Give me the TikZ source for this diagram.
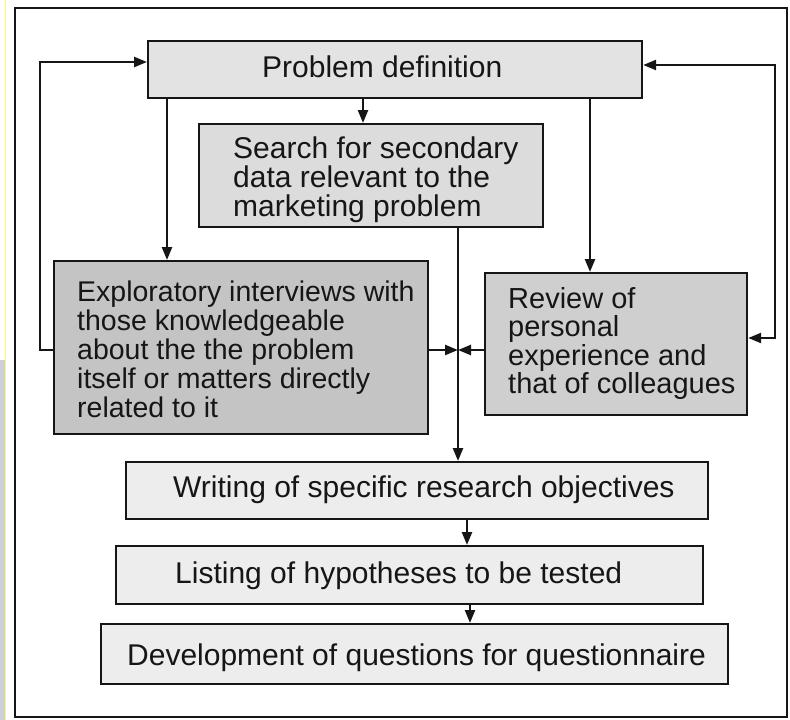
\documentclass[tikz,border=0pt]{standalone}
\usepackage{fontspec}
\setmainfont{Liberation Sans}
\usetikzlibrary{arrows.meta}
\newcommand{\fsz}[2]{\fontsize{#1}{#2}\selectfont}
\definecolor{inkc}{HTML}{161616}
\definecolor{lightbox}{HTML}{EDEDED}
\definecolor{topbox}{HTML}{E3E3E3}
\definecolor{midbox}{HTML}{DCDCDC}
\definecolor{darkbox}{HTML}{C4C4C4}
\definecolor{revbox}{HTML}{CFCFCF}
\definecolor{edgestrip}{HTML}{CCCFD8}
\begin{document}
\begin{tikzpicture}[x=1pt,y=-1pt,
  box/.style={draw=inkc, line width=2.2pt, inner sep=0pt, anchor=north west},
  txt/.style={inner sep=0pt, align=left, text=inkc},
  arr/.style={line width=2.4pt, draw=inkc, -{Triangle[length=13pt,width=10pt]}},
  twoarr/.style={line width=2.4pt, draw=inkc, {Triangle[length=13pt,width=10pt]}-{Triangle[length=13pt,width=10pt]}},
]
% page and outer frame
\fill[white] (0,0) rectangle (790,720);
\useasboundingbox (0,0) rectangle (790,720);
\fill[edgestrip] (0,360) rectangle (5,720);
\draw[yellow!55!white, line width=1pt] (5.5,0) -- (5.5,720);
\draw[inkc, line width=2.2pt] (15,8) rectangle (787,717);

% boxes
\node[box, fill=topbox,  minimum width=494pt, minimum height=57pt]  (pd) at (147,40) {};
\node[box, fill=midbox,  minimum width=344pt, minimum height=103pt] (sr) at (198,123) {};
\node[box, fill=darkbox, minimum width=374pt, minimum height=173pt] (ex) at (53,260) {};
\node[box, fill=revbox,  minimum width=262pt, minimum height=142pt] (rv) at (484,272) {};
\node[box, fill=lightbox, minimum width=582pt, minimum height=57pt] (wr) at (125,461) {};
\node[box, fill=lightbox, minimum width=587pt, minimum height=58pt] (ls) at (115,545) {};
\node[box, fill=lightbox, minimum width=627pt, minimum height=60pt] (dv) at (100,623) {};

% texts
\node[txt, anchor=base west, font=\fsz{30}{30}] (pdt) at (262,77) {Problem definition};
\node[txt, anchor=north west, font=\fsz{30}{29}] (srt) at (233,137)
  {Search for secondary\\data relevant to the\\marketing problem};
\node[txt, anchor=north west, font=\fsz{28.5}{29}] (ext) at (77,281)
  {Exploratory interviews with\\those knowledgeable\\about the the problem\\itself or matters directly\\related to it};
\node[txt, anchor=north west, font=\fsz{29}{28.5}] (rvt) at (508,287)
  {Review of\\personal\\experience and\\that of colleagues};
\node[txt, anchor=base west, font=\fsz{30}{30}] (wrt) at (173,497) {Writing of specific research objectives};
\node[txt, anchor=base west, font=\fsz{30}{30}] (lst) at (175,583) {Listing of hypotheses to be tested};
\node[txt, anchor=base west, font=\fsz{30}{30}] (dvt) at (127,665) {Development of questions for questionnaire};

% connector columns and rows
\coordinate (xa) at (363,0);
\coordinate (xb) at (167,0);
\coordinate (xc) at (590,0);
\coordinate (xd) at (458,0);
\coordinate (xe) at (467,0);
\coordinate (xf) at (470,0);
\coordinate (lx) at (40,0);
\coordinate (rx) at (775,0);
\coordinate (jy) at (0,350);
\coordinate (ly) at (0,62);
\coordinate (ry) at (0,65);
\coordinate (rb) at (0,338);
\coordinate (jn) at (458,350);

% connectors
\draw[arr] (pd.south -| xa) -- (sr.north -| xa);
\draw[arr] (pd.south -| xb) -- (ex.north -| xb);
\draw[arr] (pd.south -| xc) -- (rv.north -| xc);
\draw[arr] (sr.south -| xd) -- (wr.north -| xd);
\draw[arr] (ex.east |- jy) -- (jn);
\draw[arr] (rv.west |- jy) -- (jn);
\draw[arr] (ex.west |- jy) -| (lx |- ly) -- (pd.west |- ly);
\draw[twoarr] (pd.east |- ry) -| (rx |- rb) -- (rv.east |- rb);
\draw[arr] (wr.south -| xe) -- (ls.north -| xe);
\draw[arr] (ls.south -| xf) -- (dv.north -| xf);
\end{tikzpicture}
\end{document}
